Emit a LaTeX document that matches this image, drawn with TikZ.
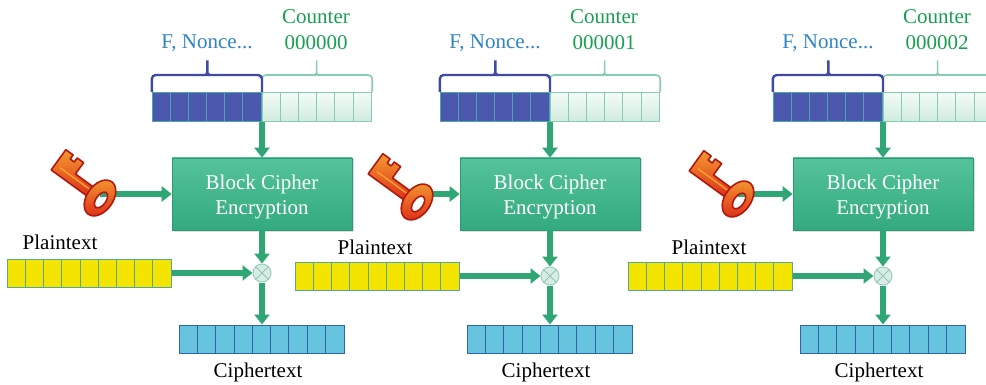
\documentclass[tikz,border=0pt]{standalone}
\usepackage{fontspec}
\setmainfont{Liberation Serif}
\usetikzlibrary{arrows.meta,shadows}

\definecolor{flowgreen}{HTML}{2FA674}
\definecolor{boxtop}{HTML}{55C39A}
\definecolor{boxbot}{HTML}{33AA7E}
\definecolor{noncefill}{HTML}{4C57AE}
\definecolor{noncegrid}{HTML}{4AA6AE}
\definecolor{noncebrace}{HTML}{3E4BA5}
\definecolor{ctrtop}{HTML}{F4FBF7}
\definecolor{ctrbot}{HTML}{CFEBDE}
\definecolor{ctrgrid}{HTML}{86CDB0}
\definecolor{ptfill}{HTML}{F3E500}
\definecolor{ptgrid}{HTML}{55A79C}
\definecolor{ctfill}{HTML}{67C4DF}
\definecolor{ctgrid}{HTML}{3462AA}
\definecolor{nonceblue}{HTML}{2F84C6}
\definecolor{ctrgreen}{HTML}{18A050}
\definecolor{keyred}{HTML}{DC2A18}
\definecolor{keyorange}{HTML}{F49A30}
\definecolor{keyedge}{HTML}{B01810}
\definecolor{xorfill}{HTML}{D5EEE5}
\definecolor{xoredge}{HTML}{9CCDBB}
\definecolor{xorcross}{HTML}{9DBFB4}

\tikzset{
  txt/.style={font=\fontsize{21}{25}\selectfont, inner sep=0pt},
  noncelabel/.style={txt, text=nonceblue},
  ctrlabel/.style={txt, text=ctrgreen},
  cellbar/.style={rectangle, inner sep=0pt, minimum height=28pt, line width=1pt},
  noncebar/.style={cellbar, minimum height=29pt, minimum width=109.2pt, fill=noncefill, draw=noncegrid},
  ctrbar/.style={cellbar, minimum height=29pt, minimum width=109.2pt, top color=ctrtop, bottom color=ctrbot, draw=ctrgrid},
  ptbar/.style={cellbar, minimum width=163.8pt, fill=ptfill, draw=ptgrid},
  ctbar/.style={cellbar, minimum width=164.7pt, fill=ctfill, draw=ctgrid},
  noncegridline/.style={noncegrid, line width=1pt},
  ctrgridline/.style={ctrgrid, line width=1pt},
  ptgridline/.style={ptgrid, line width=1pt},
  ctgridline/.style={ctgrid, line width=1pt},
  noncebracestyle/.style={noncebrace, line width=2.4pt, rounded corners=4pt},
  ctrbracestyle/.style={ctrgrid, line width=1.6pt, rounded corners=4pt},
  cipherbox/.style={rectangle, minimum width=180pt, minimum height=72pt, inner sep=0pt,
    top color=boxtop, bottom color=boxbot, draw=boxbot!90!black, line width=0.6pt,
    drop shadow={shadow xshift=1.5pt, shadow yshift=-1.5pt, opacity=0.25}},
  boxtext/.style={text=white, align=center, inner sep=0pt, font=\fontsize{21}{25}\selectfont},
  flow/.style={flowgreen, line width=6pt, -{Triangle[width=15pt,length=10pt]}},
  xorstyle/.style={circle, minimum size=18pt, inner sep=0pt, fill=xorfill, draw=xoredge, line width=1pt},
  xorline/.style={xorcross, line width=1pt},
  keystyle/.style={top color=keyorange, bottom color=keyred, draw=keyedge, line width=1.6pt, line join=round},
  keylight/.style={keyorange, line width=1.6pt, line cap=round},
}

% dividing lines inside a row of cells
\newcommand\rowgrid[4]{%
  \foreach \k in {1,...,#2}{%
    \draw[#4] ([xshift=\k*#3pt]#1.south west) -- ([xshift=\k*#3pt]#1.north west);}}

% a key, ring centre at (#1,#2), blade pointing up-left
\newcommand\drawkey[2]{%
  \begin{scope}[shift={(#1,#2)}, rotate=-36]
    \filldraw[keystyle] (-8,-5) -- (-34,-5) -- (-34,-19) -- (-42,-19) -- (-42,-14)
      -- (-47,-14) -- (-47,-19) -- (-56,-19) -- (-56,6) -- (-8,6) -- cycle;
    \draw[keylight] (-14,-1) -- (-50,-1);
    \filldraw[keystyle, even odd rule] (0,0) ellipse [x radius=13, y radius=20]
      (2,1) ellipse [x radius=5, y radius=9];
  \end{scope}}

% one CTR stage: #1 id, #2 x of nonce/counter split, #3 counter value,
% #4,#5 key ring centre, #6 plaintext row y, #7,#8 plaintext label position
\newcommand\ctrstage[8]{%
  % nonce and counter register
  \node[noncebar, anchor=south east] (nonce#1) at (#2,122) {};
  \node[ctrbar, anchor=south west] (ctr#1) at (#2,122) {};
  \rowgrid{nonce#1}{5}{18.2}{noncegridline}
  \rowgrid{ctr#1}{5}{18.2}{ctrgridline}
  \draw[ctrbracestyle] (ctr#1.north west) |- (#2+49.6,75) to[out=0,in=-90] (#2+54.6,70)
    -- (#2+54.6,58) -- (#2+54.6,70) to[out=-90,in=180] (#2+59.6,75) -| (ctr#1.north east);
  \draw[noncebracestyle] (nonce#1.north west) |- (#2-59.6,75) to[out=0,in=-90] (#2-54.6,70)
    -- (#2-54.6,58) -- (#2-54.6,70) to[out=-90,in=180] (#2-49.6,75) -| (nonce#1.north east);
  \node[noncelabel] (noncetxt#1) at (#2-55,43) {F, Nonce...};
  \node[ctrlabel] (ctrtxt#1) at (#2+54,17) {Counter};
  \node[ctrlabel] (ctrval#1) at (#2+54,43) {#3};
  % block cipher
  \node[cipherbox] (enc#1) at (#2,194) {};
  \node[boxtext] (enctxt#1) at (#2,197) {Block Cipher\\Encryption};
  % plaintext, xor and ciphertext
  \node[ptbar, anchor=east] (pt#1) at (#2-90,#6) {};
  \rowgrid{pt#1}{8}{18.2}{ptgridline}
  \node[txt] (pttxt#1) at (#7,#8) {Plaintext};
  \node[xorstyle] (xor#1) at (#2,#6) {};
  \draw[xorline] (xor#1.north east) -- (xor#1.south west)
                 (xor#1.north west) -- (xor#1.south east);
  \node[ctbar] (ct#1) at (#2,339) {};
  \rowgrid{ct#1}{8}{18.3}{ctgridline}
  \node[txt] (cttxt#1) at (#2-4,372) {Ciphertext};
  % data flow
  \coordinate (key#1) at (#4,#5);
  \draw[flow] (nonce#1.south east) -- (enc#1.north);
  \draw[flow] (enc#1.west -| key#1) -- (enc#1.west);
  \draw[flow] (enc#1.south) -- (xor#1.north);
  \draw[flow] (pt#1.east) -- (xor#1.west);
  \draw[flow] (xor#1.south) -- (ct#1.north);
  \drawkey{#4}{#5}
}

\begin{document}
\begin{tikzpicture}[x=1pt,y=-1pt]
  \useasboundingbox (0,0) rectangle (986,385);
  \clip (0,0) rectangle (986,385);
  \fill[white] (0,0) rectangle (986,385);
  \ctrstage{1}{262}{000000}{100}{198}{273}{60}{242}
  \ctrstage{2}{550}{000001}{417}{202}{276}{375}{247}
  \ctrstage{3}{883}{000002}{738}{199}{276}{709}{247}
\end{tikzpicture}
\end{document}
